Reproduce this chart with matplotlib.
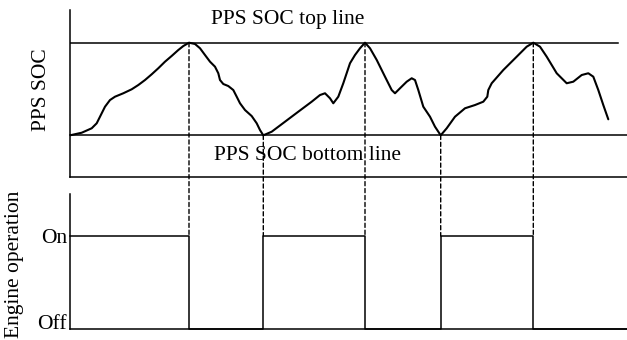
import matplotlib
matplotlib.use("Agg")
import matplotlib.pyplot as plt
from matplotlib.patches import ConnectionPatch

plt.rcParams['font.family'] = ['Liberation Serif', 'DejaVu Serif']

# SOC curve (time in arbitrary units, SOC normalised: 0 = bottom line, 1 = top line)
soc_t = [0, 11.7, 21.7, 26.7, 30, 35, 40, 45, 53.3, 61.7, 68.3, 75, 81.7, 88.3,
         95, 101.7, 108.3, 113.3, 119, 125, 130, 135, 140, 145, 148.3, 150,
         153.3, 158.3, 163.3, 166.7, 170, 175, 181.7, 186.7, 190, 193.3, 201.7,
         215, 228.3, 241.7, 250, 255, 260, 263.3, 268.3, 273.3, 280, 285, 290,
         295, 300, 306.7, 315, 321.7, 325, 330, 336.7, 341.7, 345, 348.3, 353.3,
         360, 365, 370.7, 376.7, 385, 395, 405, 413.3, 417.3, 418.3, 421.7,
         433.3, 446.7, 456.7, 463.3, 470, 476.7, 486.7, 496.7, 503.3, 511.7,
         518.3, 523.3, 528.3, 533.3, 538.3]
soc_v = [0.0, 0.028, 0.076, 0.130, 0.201, 0.309, 0.381, 0.417, 0.454, 0.497,
         0.543, 0.597, 0.659, 0.724, 0.795, 0.857, 0.921, 0.964, 1.0, 0.986,
         0.940, 0.867, 0.795, 0.741, 0.670, 0.597, 0.554, 0.532, 0.489, 0.417,
         0.346, 0.273, 0.208, 0.130, 0.057, 0.0, 0.039, 0.147, 0.255, 0.363,
         0.435, 0.454, 0.400, 0.346, 0.417, 0.562, 0.778, 0.867, 0.940, 1.0,
         0.940, 0.814, 0.633, 0.489, 0.454, 0.508, 0.579, 0.616, 0.597, 0.489,
         0.309, 0.201, 0.093, 0.0, 0.076, 0.201, 0.292, 0.327, 0.363, 0.417,
         0.489, 0.562, 0.705, 0.849, 0.957, 1.0, 0.957, 0.849, 0.670, 0.562,
         0.579, 0.651, 0.670, 0.633, 0.489, 0.327, 0.173]
soc_top = 1.0
soc_bottom = 0.0

# Engine on/off switching
peak_times = [119, 295, 463.3]      # SOC reaches top line -> engine off
trough_times = [193.3, 370.7]       # SOC reaches bottom line -> engine on
engine_t = [0, 119, 193.3, 295, 370.7, 463.3, 557]
engine_state = [1, 0, 1, 0, 1, 0, 0]
engine_labels = ['Off', 'On']

W, H = 627, 340
fig = plt.figure(figsize=(W / 100, H / 100), dpi=100)

def px_axes(x0, y0, x1, y1):
    return fig.add_axes([x0 / W, 1 - y1 / H, (x1 - x0) / W, (y1 - y0) / H])

ax1 = px_axes(70, 10, 627, 177)
ax2 = px_axes(70, 194, 627, 329)

for ax in (ax1, ax2):
    ax.set_xlim(0, 557)
    for s in ('top', 'right'):
        ax.spines[s].set_visible(False)
    for s in ('left', 'bottom'):
        ax.spines[s].set_linewidth(1.1)
    ax.set_xticks([])
    ax.patch.set_visible(False)

# Top panel
ax1.set_ylim(-0.450, 1.353)
ax1.set_yticks([])
ax1.plot([0, 548], [soc_top, soc_top], color='black', lw=1.1)
ax1.plot([0, 557], [soc_bottom, soc_bottom], color='black', lw=1.1, clip_on=False)
ax1.plot(soc_t, soc_v, color='black', lw=1.5, solid_joinstyle='round',
         solid_capstyle='round')
ax1.text(218, 1.25, 'PPS SOC top line', ha='center', va='center', fontsize=15.5)
ax1.text(237, -0.217, 'PPS SOC bottom line', ha='center', va='center', fontsize=15.5)

# Bottom panel
ax2.set_ylim(0, 1.452)
ax2.step(engine_t, engine_state, where='post', color='black', lw=1.1, clip_on=False)
ax2.set_yticks([0, 1])
ax2.set_yticklabels(engine_labels, fontsize=15.5)
ax2.tick_params(axis='y', length=0, pad=2)
ax2.get_yticklabels()[0].set_va('baseline')

# Dashed connectors
for t in peak_times:
    con = ConnectionPatch(xyA=(t, soc_top), coordsA='data', axesA=ax1,
                          xyB=(t, 1), coordsB='data', axesB=ax2,
                          linestyle=(0, (3, 2)), color='black', lw=1.0)
    fig.add_artist(con)
for t in trough_times:
    con = ConnectionPatch(xyA=(t, soc_bottom), coordsA='data', axesA=ax1,
                          xyB=(t, 1), coordsB='data', axesB=ax2,
                          linestyle=(0, (3, 2)), color='black', lw=1.0)
    fig.add_artist(con)

fig.text(42 / W, 1 - 90 / H, 'PPS SOC', rotation=90, ha='center', va='center', fontsize=15.5)
fig.text(15 / W, 1 - 264 / H, 'Engine operation', rotation=90, ha='center', va='center', fontsize=15.5)

fig.savefig('out.png', dpi=100)
